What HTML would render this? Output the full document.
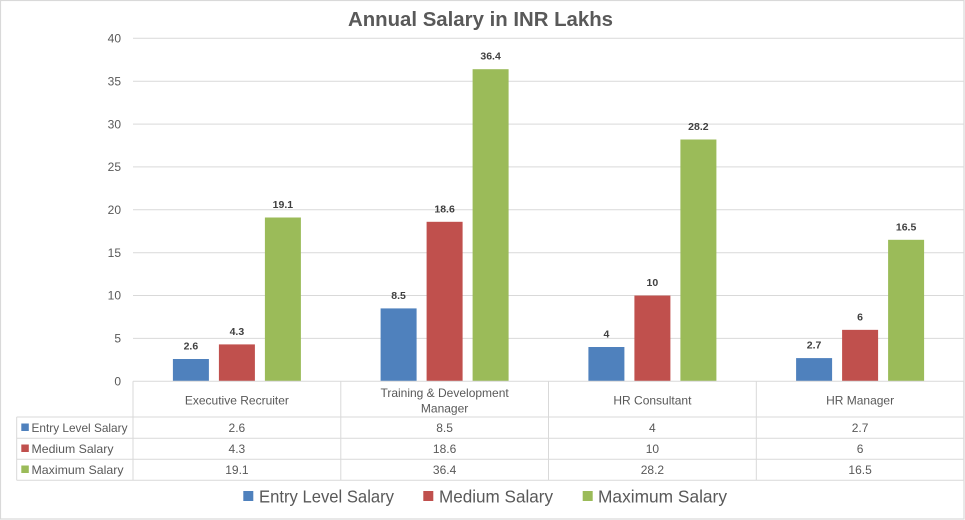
<!DOCTYPE html>
<html>
<head>
<meta charset="utf-8">
<style>
  html,body{margin:0;padding:0;background:#fff;}
  svg{display:block;}
  text{font-family:"Liberation Sans", Arial, sans-serif;}
</style>
</head>
<body>
<svg width="965" height="520" viewBox="0 0 965 520" xmlns="http://www.w3.org/2000/svg">
  <rect x="0" y="0" width="965" height="520" fill="#ffffff"/>
  <rect x="0.5" y="0.5" width="963.5" height="518.5" fill="none" stroke="#D9D9D9" stroke-width="1.2"/>

  <!-- Title -->
  <text x="480.5" y="26" text-anchor="middle" font-size="20" font-weight="bold" fill="#595959" textLength="265" lengthAdjust="spacingAndGlyphs">Annual Salary in INR Lakhs</text>

  <!-- Gridlines -->
  <g stroke="#D9D9D9" stroke-width="1">
    <line x1="133" y1="38.3" x2="964" y2="38.3"/>
    <line x1="133" y1="81.2" x2="964" y2="81.2"/>
    <line x1="133" y1="124.1" x2="964" y2="124.1"/>
    <line x1="133" y1="166.9" x2="964" y2="166.9"/>
    <line x1="133" y1="209.8" x2="964" y2="209.8"/>
    <line x1="133" y1="252.7" x2="964" y2="252.7"/>
    <line x1="133" y1="295.5" x2="964" y2="295.5"/>
    <line x1="133" y1="338.4" x2="964" y2="338.4"/>
  </g>

  <!-- Y tick labels -->
  <g font-size="12" fill="#595959" text-anchor="end">
    <text x="121" y="42.5">40</text>
    <text x="121" y="85.4">35</text>
    <text x="121" y="128.3">30</text>
    <text x="121" y="171.1">25</text>
    <text x="121" y="214">20</text>
    <text x="121" y="256.9">15</text>
    <text x="121" y="299.7">10</text>
    <text x="121" y="342.6">5</text>
    <text x="121" y="385.5">0</text>
  </g>

  <!-- Bars -->
  <g>
    <rect x="172.9" y="359.0" width="36" height="22.3" fill="#4F81BD"/>
    <rect x="218.9" y="344.4" width="36" height="36.9" fill="#C0504D"/>
    <rect x="264.9" y="217.5" width="36" height="163.8" fill="#9BBB59"/>

    <rect x="380.6" y="308.4" width="36" height="72.9" fill="#4F81BD"/>
    <rect x="426.6" y="221.8" width="36" height="159.5" fill="#C0504D"/>
    <rect x="472.6" y="69.2" width="36" height="312.1" fill="#9BBB59"/>

    <rect x="588.4" y="347.0" width="36" height="34.3" fill="#4F81BD"/>
    <rect x="634.4" y="295.55" width="36" height="85.75" fill="#C0504D"/>
    <rect x="680.4" y="139.5" width="36" height="241.8" fill="#9BBB59"/>

    <rect x="796.1" y="358.1" width="36" height="23.2" fill="#4F81BD"/>
    <rect x="842.1" y="329.85" width="36" height="51.45" fill="#C0504D"/>
    <rect x="888.1" y="239.8" width="36" height="141.5" fill="#9BBB59"/>
  </g>

  <!-- Data labels -->
  <g font-size="10.5" font-weight="bold" fill="#404040" text-anchor="middle">
    <text x="190.9" y="349.5">2.6</text>
    <text x="236.9" y="334.9">4.3</text>
    <text x="282.9" y="208">19.1</text>

    <text x="398.6" y="298.9">8.5</text>
    <text x="444.6" y="212.3">18.6</text>
    <text x="490.6" y="59.7">36.4</text>

    <text x="606.4" y="337.5">4</text>
    <text x="652.4" y="286">10</text>
    <text x="698.4" y="130">28.2</text>

    <text x="814.1" y="348.6">2.7</text>
    <text x="860.1" y="320.3">6</text>
    <text x="906.1" y="230.3">16.5</text>
  </g>

  <!-- Data table lines -->
  <g stroke="#D9D9D9" stroke-width="1">
    <line x1="133" y1="381.3" x2="964" y2="381.3"/>
    <line x1="16.7" y1="417" x2="964" y2="417"/>
    <line x1="16.7" y1="438.3" x2="964" y2="438.3"/>
    <line x1="16.7" y1="459.3" x2="964" y2="459.3"/>
    <line x1="16.7" y1="480.3" x2="964" y2="480.3"/>
    <line x1="16.7" y1="417" x2="16.7" y2="480.3"/>
    <line x1="133" y1="381.3" x2="133" y2="480.3"/>
    <line x1="340.8" y1="381.3" x2="340.8" y2="480.3"/>
    <line x1="548.5" y1="381.3" x2="548.5" y2="480.3"/>
    <line x1="756.3" y1="381.3" x2="756.3" y2="480.3"/>
    <line x1="963.8" y1="381.3" x2="963.8" y2="480.3"/>
  </g>

  <!-- Category labels -->
  <g font-size="12" fill="#595959" text-anchor="middle">
    <text x="236.9" y="404.3">Executive Recruiter</text>
    <text x="444.6" y="397">Training &amp; Development</text>
    <text x="444.6" y="412.6">Manager</text>
    <text x="652.4" y="404.3">HR Consultant</text>
    <text x="860.1" y="404.3">HR Manager</text>
  </g>

  <!-- Table legend keys -->
  <rect x="21.3" y="423.5" width="7.5" height="7.5" fill="#4F81BD"/>
  <rect x="21.3" y="444.5" width="7.5" height="7.5" fill="#C0504D"/>
  <rect x="21.3" y="465.5" width="7.5" height="7.5" fill="#9BBB59"/>
  <g font-size="12" fill="#595959">
    <text x="31.5" y="432" textLength="96" lengthAdjust="spacingAndGlyphs">Entry Level Salary</text>
    <text x="31.5" y="453" textLength="82" lengthAdjust="spacingAndGlyphs">Medium Salary</text>
    <text x="31.5" y="474" textLength="92" lengthAdjust="spacingAndGlyphs">Maximum Salary</text>
  </g>

  <!-- Table values -->
  <g font-size="12" fill="#595959" text-anchor="middle">
    <text x="236.9" y="432">2.6</text>
    <text x="444.6" y="432">8.5</text>
    <text x="652.4" y="432">4</text>
    <text x="860.1" y="432">2.7</text>

    <text x="236.9" y="453">4.3</text>
    <text x="444.6" y="453">18.6</text>
    <text x="652.4" y="453">10</text>
    <text x="860.1" y="453">6</text>

    <text x="236.9" y="474">19.1</text>
    <text x="444.6" y="474">36.4</text>
    <text x="652.4" y="474">28.2</text>
    <text x="860.1" y="474">16.5</text>
  </g>

  <!-- Bottom legend -->
  <rect x="243.3" y="491" width="10" height="10" fill="#4F81BD"/>
  <rect x="423.3" y="491" width="10" height="10" fill="#C0504D"/>
  <rect x="582.7" y="491" width="10" height="10" fill="#9BBB59"/>
  <g font-size="17.5" fill="#595959">
    <text x="259" y="502.3" textLength="135" lengthAdjust="spacingAndGlyphs">Entry Level Salary</text>
    <text x="439" y="502.3" textLength="114" lengthAdjust="spacingAndGlyphs">Medium Salary</text>
    <text x="598" y="502.3" textLength="129" lengthAdjust="spacingAndGlyphs">Maximum Salary</text>
  </g>
</svg>
</body>
</html>
